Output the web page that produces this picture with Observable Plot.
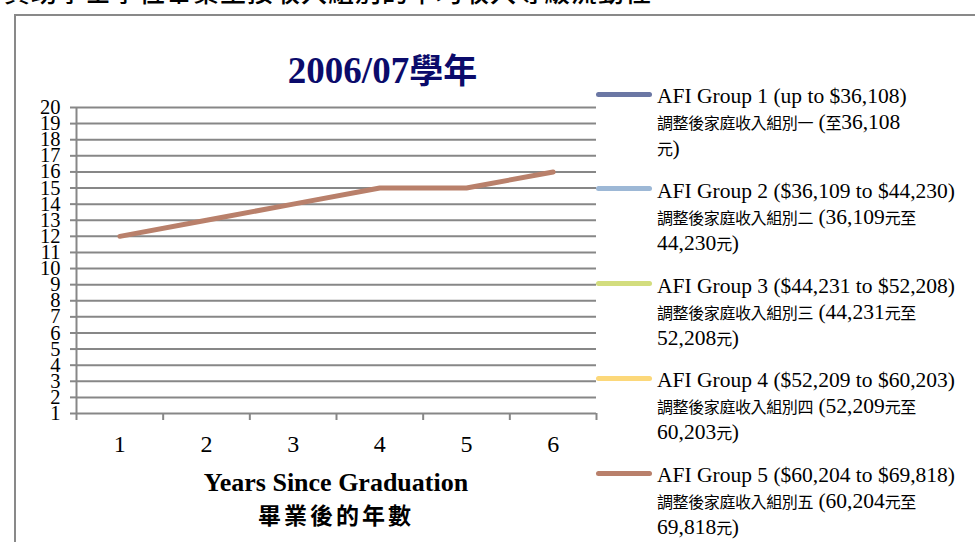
<!DOCTYPE html>
<html><head><meta charset="utf-8">
<script src="https://cdn.jsdelivr.net/npm/d3@7"></script>
<script src="https://cdn.jsdelivr.net/npm/@observablehq/plot@0.6"></script>
<style>
html,body{margin:0;padding:0;background:#fff;}
body{width:975px;height:542px;overflow:hidden;position:relative;font-family:"Liberation Serif","Noto Sans CJK TC",serif;color:#000;}
#frame{position:absolute;left:14px;top:14px;width:1000px;height:600px;border:2px solid #898989;box-sizing:border-box;}
#toptitle{position:absolute;left:4px;top:-22px;font-family:"Noto Sans CJK TC",sans-serif;font-size:26px;line-height:26px;letter-spacing:1px;white-space:nowrap;font-weight:500;}
#chart{position:absolute;left:0;top:0;}
#ctitle{position:absolute;left:0;width:765px;top:49px;text-align:center;font-weight:bold;color:#0b0b6b;font-size:37px;line-height:40px;white-space:nowrap;}
#ctitle .cjk{font-family:"Noto Sans CJK TC";font-weight:700;font-size:34px;letter-spacing:0;}
#xtitle{position:absolute;left:76px;width:520px;top:467px;text-align:center;font-weight:bold;white-space:nowrap;}
#xtitle .en{font-size:26px;line-height:32px;}
#xtitle .zh{font-family:"Noto Sans CJK TC";font-size:23px;line-height:30px;letter-spacing:3px;font-weight:700;}
#legend{position:absolute;left:657px;top:83px;}
.entry{position:relative;height:94.75px;white-space:nowrap;font-size:21.5px;line-height:26px;}
.sw{position:absolute;left:-61px;top:8.5px;width:56px;height:5px;border-radius:3px;}
.cjk{font-family:"Noto Sans CJK TC";font-size:16px;letter-spacing:-0.4px;}
</style></head><body>
<div id="toptitle"></div>
<div id="frame"></div>
<div id="chart"></div>
<div id="ctitle"></div>
<div id="xtitle"></div>
<div id="legend"></div>
<script>
// ---- data ----
const pageTitle = "資助學士學位畢業生按收入組別的平均收入等級流動性";
const chartTitleNum = "2006/07";
const chartTitleZh = "學年";
const years = [1, 2, 3, 4, 5, 6];
const yTicks = [1,2,3,4,5,6,7,8,9,10,11,12,13,14,15,16,17,18,19,20];
const groupEn = [
  "AFI Group 1 (up to $36,108)",
  "AFI Group 2 ($36,109 to $44,230)",
  "AFI Group 3 ($44,231 to $52,208)",
  "AFI Group 4 ($52,209 to $60,203)",
  "AFI Group 5 ($60,204 to $69,818)"
];
const groupZh1 = [
  "調整後家庭收入組別一 (至36,108",
  "調整後家庭收入組別二 (36,109元至",
  "調整後家庭收入組別三 (44,231元至",
  "調整後家庭收入組別四 (52,209元至",
  "調整後家庭收入組別五 (60,204元至"
];
const groupZh2 = ["元)", "44,230元)", "52,208元)", "60,203元)", "69,818元)"];
const groupColors = ["#6b77a4", "#9db8d6", "#d3dd7e", "#fcd87a", "#b9806b"];
// only the Group 5 series is visible in the chart
const group5 = [12, 13, 14, 15, 15, 16];
const xTitleEn = "Years Since Graduation";
const xTitleZh = "畢業後的年數";

// ---- build ----
const data = years.map((y, i) => ({year: y, value: group5[i], group: groupEn[4]}));
const boundaries = d3.range(0, years.length + 1).map(i => years[0] - 0.5 + i);
const gray = "#878787";

const chart = Plot.plot({
  width: 975, height: 542,
  marginLeft: 76, marginRight: 379, marginTop: 107, marginBottom: 129,
  style: {fontFamily: "Liberation Serif", background: "transparent", overflow: "visible", color: "#000"},
  x: {type: "linear", domain: [years[0] - 0.5, years[years.length - 1] + 0.5]},
  y: {domain: [1, 20]},
  marks: [
    Plot.gridY(yTicks, {stroke: gray, strokeOpacity: 1, strokeWidth: 2}),
    Plot.ruleX([boundaries[0]], {stroke: gray, strokeWidth: 2}),
    Plot.axisY(yTicks, {tickSize: 6, tickPadding: 10, fontSize: 20.5, stroke: gray, strokeWidth: 2, fill: "#000", label: null}),
    Plot.axisX(boundaries, {tickSize: 7, tickFormat: () => "", stroke: gray, strokeWidth: 2, label: null}),
    Plot.axisX(years, {tickSize: 0, tickPadding: 21, fontSize: 24, fill: "#000", label: null, tickFormat: d => String(d)}),
    Plot.lineY(data, {x: "year", y: "value", stroke: groupColors[4], strokeWidth: 5, strokeLinecap: "round", strokeLinejoin: "round"})
  ]
});
document.getElementById("chart").appendChild(chart);

document.getElementById("toptitle").textContent = pageTitle;
document.getElementById("ctitle").innerHTML = chartTitleNum + '<span class="cjk">' + chartTitleZh + '</span>';
document.getElementById("xtitle").innerHTML = '<div class="en">' + xTitleEn + '</div><div class="zh">' + xTitleZh + '</div>';

function wrapCjk(s) {
  return s.replace(/([\u3400-\u9fff]+)/g, '<span class="cjk">$1</span>');
}
const legend = document.getElementById("legend");
groupEn.forEach((g, i) => {
  const e = document.createElement("div");
  e.className = "entry";
  e.innerHTML = '<div class="sw" style="background:' + groupColors[i] + '"></div>' +
    '<div>' + g + '</div><div>' + wrapCjk(groupZh1[i]) + '</div><div>' + wrapCjk(groupZh2[i]) + '</div>';
  legend.appendChild(e);
});
</script>
</body></html>
